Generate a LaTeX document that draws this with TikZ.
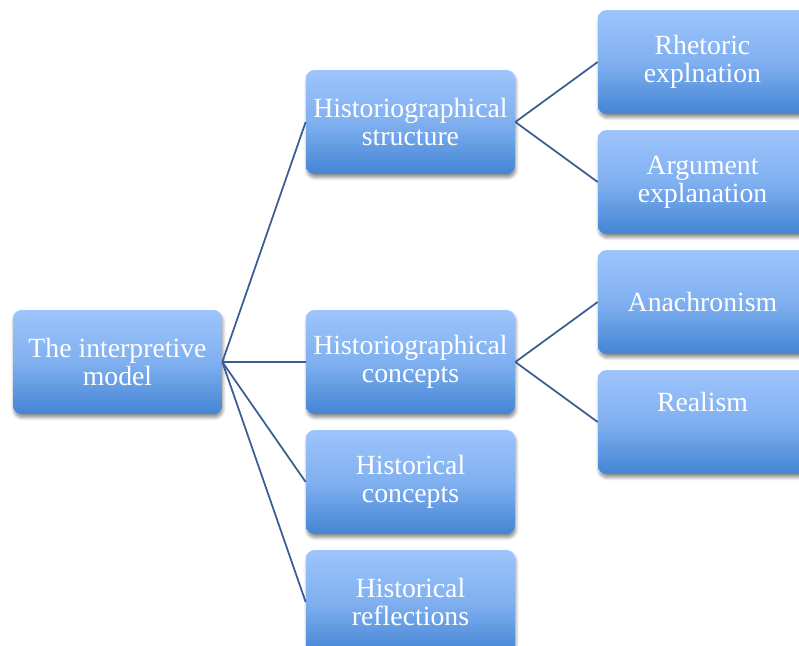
\documentclass[tikz,border=0pt]{standalone}
\usepackage{fontspec}
\setmainfont{Liberation Serif}
\usepackage{tikz}
\usetikzlibrary{positioning, shadows.blur}

\definecolor{boxtop}{RGB}{157,196,252}
\definecolor{boxmid}{RGB}{128,176,240}
\definecolor{boxbot}{RGB}{68,133,212}
\definecolor{linkcol}{RGB}{58,94,146}

\begin{document}
\begin{tikzpicture}[
    x=0.02cm, y=-0.02cm,
    treebox/.style={rectangle, rounded corners=0.17cm, minimum width=4.18cm, minimum height=2.08cm,
        top color=boxtop, bottom color=boxbot, middle color=boxmid, draw=none,
        text=white, align=center, font=\fontsize{15.8}{15.9}\selectfont, inner sep=2pt,
        blur shadow={shadow xshift=0.5pt, shadow yshift=-2pt, shadow blur steps=6, shadow opacity=45}},
    link/.style={draw=linkcol, line width=1pt},
]
\clip (0,0) rectangle (799,646);

% root
\node[treebox] (model) at (117.5, 362) {The interpretive\\model};

% first level
\node[treebox] (hstruct) at (410.5, 122) {Historiographical\\structure};
\node[treebox] (hconc) at (410.5, 362) {Historiographical\\concepts};
\node[treebox] (hicon) at (410.5, 482) {Historical\\concepts};
\node[treebox] (hiref) at (410.5, 602) {Historical\\reflections};

% second level
\node[treebox] (rhet) at (702.5, 62) {Rhetoric\\explnation};
\node[treebox] (argu) at (702.5, 182) {Argument\\explanation};
\node[treebox] (anach) at (702.5, 302) {Anachronism};
\node[treebox] (real) at (702.5, 422) {Realism\\[0.24cm]\mbox{}};

\draw[link] (model.east) -- (hstruct.west);
\draw[link] (model.east) -- (hconc.west);
\draw[link] (model.east) -- (hicon.west);
\draw[link] (model.east) -- (hiref.west);

\draw[link] (hstruct.east) -- (rhet.west);
\draw[link] (hstruct.east) -- (argu.west);
\draw[link] (hconc.east) -- (anach.west);
\draw[link] (hconc.east) -- (real.west);

\end{tikzpicture}
\end{document}
